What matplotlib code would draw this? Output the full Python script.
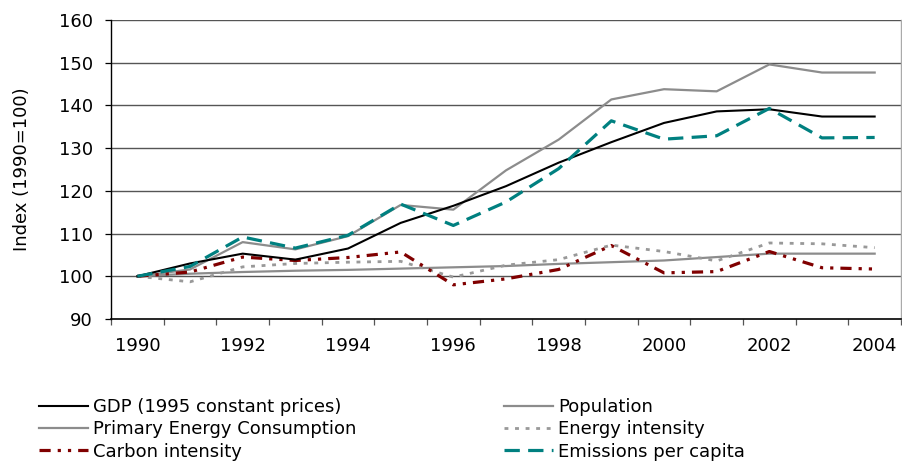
import matplotlib
matplotlib.use("Agg")
import matplotlib.pyplot as plt

years = [1990, 1991, 1992, 1993, 1994, 1995, 1996, 1997,
         1998, 1999, 2000, 2001, 2002, 2003, 2004]

gdp = [100, 103.0, 105.3, 103.9, 106.5, 112.5, 116.5, 121.1,
       126.6, 131.4, 135.9, 138.6, 139.1, 137.4, 137.4]
population = [100, 100.6, 101.0, 101.3, 101.5, 101.8, 102.1, 102.4,
              102.9, 103.3, 103.7, 104.5, 105.3, 105.3, 105.3]
primary_energy = [100, 101.6, 108.0, 106.3, 109.4, 116.7, 115.6, 124.8,
                  132.0, 141.4, 143.8, 143.3, 149.6, 147.7, 147.7]
energy_intensity = [100, 98.7, 102.2, 103.0, 103.3, 103.5, 99.8, 102.6,
                    103.9, 107.3, 105.8, 103.6, 107.8, 107.6, 106.7]
carbon_intensity = [100, 101.0, 104.5, 103.7, 104.4, 105.7, 98.0, 99.4,
                    101.6, 107.2, 100.8, 101.1, 105.8, 102.0, 101.7]
emissions_pc = [100, 102.3, 109.2, 106.6, 109.6, 116.9, 111.9, 117.4,
                125.2, 136.4, 132.1, 132.9, 139.3, 132.4, 132.5]

y_ticks = [90, 100, 110, 120, 130, 140, 150, 160]

plt.rcParams["font.family"] = ["DejaVu Sans"]
fs = 13

fig = plt.figure(figsize=(9.02, 4.62), dpi=100)
ax = fig.add_axes([111 / 902, 1 - 319 / 462, 790 / 902, 299 / 462])

xs = list(range(len(years)))

GRAY = "#8c8c8c"
TEAL = "#008080"
DRED = "#800000"

l_gdp, = ax.plot(xs, gdp, color="black", lw=1.5, zorder=5)
l_pop, = ax.plot(xs, population, color=GRAY, lw=1.6, zorder=3)
l_pec, = ax.plot(xs, primary_energy, color=GRAY, lw=1.6, zorder=4)
l_ei, = ax.plot(xs, energy_intensity, color="#999999", lw=2.0,
                linestyle=(0, (1.4, 2.4)), zorder=3)
l_ci, = ax.plot(xs, carbon_intensity, color=DRED, lw=2.3,
                linestyle=(0, (3.5, 2.2, 1.0, 2.2, 1.0, 2.2)), zorder=4)
l_em, = ax.plot(xs, emissions_pc, color=TEAL, lw=2.3,
                linestyle=(0, (4.8, 2.6)), zorder=6)

ax.set_xlim(-0.5, len(years) - 0.5)
ax.set_ylim(y_ticks[0], y_ticks[-1])

# horizontal gridlines
for v in y_ticks[1:]:
    ax.axhline(v, color="#555555", lw=1.0, zorder=1)

ax.set_yticks(y_ticks)
ax.tick_params(axis="y", direction="out", length=4.5, width=0.9,
               pad=8.5, labelsize=fs, colors="black")

# tick marks sit between categories, labels under every second category
ax.set_xticks([i - 0.5 for i in range(len(years) + 1)])
ax.set_xticklabels([])
ax.tick_params(axis="x", which="major", direction="out", length=4,
               width=0.9, color="#555555")
ax.set_xticks(xs[::2], minor=True)
ax.set_xticklabels([str(y) for y in years[::2]], minor=True)
ax.tick_params(axis="x", which="minor", length=0, pad=13, labelsize=fs)

ax.spines["top"].set_visible(False)
ax.spines["right"].set_color("#aaaaaa")
ax.spines["right"].set_linewidth(1.0)
ax.spines["left"].set_linewidth(1.0)
ax.spines["bottom"].set_linewidth(1.2)

ax.set_ylabel("Index (1990=100)", fontsize=fs, labelpad=20)

leg_kw = dict(frameon=False, fontsize=fs, handlelength=2.7,
              handletextpad=0.3, labelspacing=0.24, borderpad=0,
              borderaxespad=0, loc="upper left")
leg1 = fig.legend([l_gdp, l_pec, l_ci],
                  ["GDP (1995 constant prices)", "Primary Energy Consumption",
                   "Carbon intensity"],
                  bbox_to_anchor=(39 / 902, 1 - 398 / 462), **leg_kw)
leg2 = fig.legend([l_pop, l_ei, l_em],
                  ["Population", "Energy intensity", "Emissions per capita"],
                  bbox_to_anchor=(504 / 902, 1 - 398 / 462), **leg_kw)

fig.savefig("out.png", dpi=100)
